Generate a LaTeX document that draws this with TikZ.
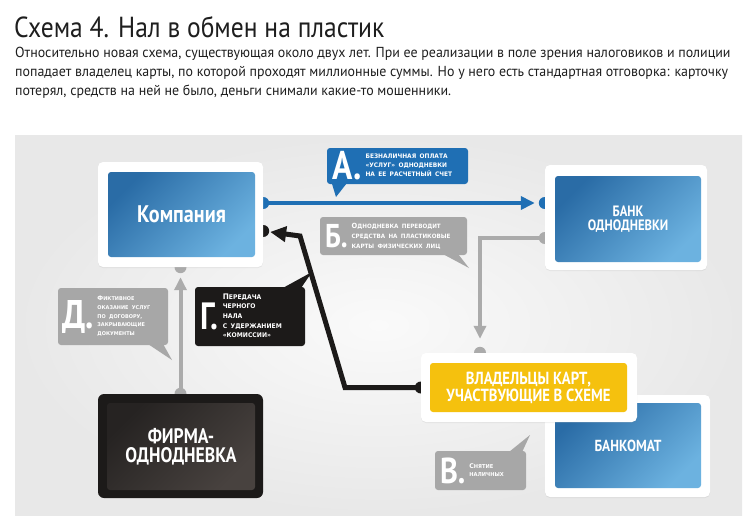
\documentclass[tikz,border=0pt]{standalone}
\usepackage{fontspec}
\setmainfont[FakeStretch=0.96]{PT Sans}
\newfontfamily\titlefont[FakeStretch=0.88]{PT Sans}
\newfontfamily\boxfont[FakeStretch=0.84]{PT Sans}
\newfontfamily\callfont[FakeStretch=0.95]{DejaVu Sans}
\usetikzlibrary{calc,backgrounds,shadows,arrows.meta,positioning}
\definecolor{schemeblue}{HTML}{1F6FB4}
\definecolor{bluedark}{HTML}{2A6CA6}
\definecolor{bluelight}{HTML}{6CB2E0}
\definecolor{callgrey}{HTML}{A7A7A7}
\definecolor{linegrey}{HTML}{ABABAB}
\definecolor{nearblack}{HTML}{1C1A19}
\definecolor{firmdark}{HTML}{262322}
\definecolor{firmlight}{HTML}{48423F}
\definecolor{cardyellow}{HTML}{F5C10E}
\definecolor{panelin}{HTML}{FAFAFA}
\definecolor{panelout}{HTML}{E8E8E8}
\definecolor{inkgrey}{HTML}{1E1E1E}

% letter + small text inside a callout
\newcommand{\callbody}[5]{\mbox{$\vcenter{\hbox{\boxfont\bfseries\fontsize{#1}{#1}\selectfont #2}}$\hspace{4pt}$\vcenter{\hbox{\callfont\bfseries\fontsize{#3}{#4}\selectfont\begin{tabular}{@{}l@{}}#5\end{tabular}}}$}}
\newcommand{\ini}[1]{\scalebox{1.2}{#1}}

\begin{document}
\begin{tikzpicture}[x=1pt,y=-1pt]

\tikzset{whitebox/.style={fill=white,rounded corners=5pt,drop shadow={shadow xshift=0pt,shadow yshift=-1pt,opacity=.12}},
bluebox/.style={rounded corners=3pt,top color=bluedark,bottom color=bluelight,shading angle=45,text=white,font=\boxfont\bfseries,align=center,inner sep=0pt},
callbox/.style={rounded corners=3pt,text=white,inner sep=0pt,align=left},
blueline/.style={draw=schemeblue,line width=4pt,-{Triangle[length=14pt,width=13pt]},shorten >=10pt},
greyline/.style={draw=linegrey,line width=4pt,-{Triangle[length=13pt,width=12pt]}},
blackline/.style={draw=nearblack,line width=5pt,-{Triangle[length=16pt,width=15pt]}}}

\useasboundingbox (0,0) rectangle (750,525);

% Heading
\node[anchor=base west,inner sep=0pt,text=inkgrey,font=\titlefont\fontsize{29}{29}\selectfont] (title) at (14,37) {Схема 4. Нал в обмен на пластик};
\node[anchor=base west,inner sep=0pt,text=inkgrey,font=\fontsize{14.5}{16}\selectfont] (bodyA) at (15,57) {Относительно новая схема, существующая около двух лет. При ее реализации в поле зрения налоговиков и полиции};
\node[anchor=base west,inner sep=0pt,text=inkgrey,font=\fontsize{14.5}{16}\selectfont] (bodyB) at (15,76) {попадает владелец карты, по которой проходят миллионные суммы. Но у него есть стандартная отговорка: карточку};
\node[anchor=base west,inner sep=0pt,text=inkgrey,font=\fontsize{14.5}{16}\selectfont] (bodyC) at (15,95) {потерял, средств на ней не было, деньги снимали какие-то мошенники.};

% Boxes
\node[whitebox,minimum width=165pt,minimum height=105pt] (kompW) at (180.5,214.5) {};
\node[bluebox,minimum width=147pt,minimum height=85pt,font=\boxfont\bfseries\fontsize{24}{26}\selectfont] (komp) at (181.5,214.5) {Компания};

\node[whitebox,minimum width=162pt,minimum height=105pt] (bankW) at (626,217.5) {};
\node[bluebox,minimum width=146pt,minimum height=86pt,font=\boxfont\bfseries\fontsize{15}{13.5}\selectfont] (bank) at (628,219) {БАНК\\ОДНОДНЕВКИ};

\node[whitebox,minimum width=165pt,minimum height=102pt] (bankomatW) at (627.5,446) {};
\node[bluebox,minimum width=146pt,minimum height=85pt,font=\boxfont\bfseries\fontsize{16}{16}\selectfont] (bankomat) at (628,445.5) {БАНКОМАТ};

\node[whitebox,minimum width=216pt,minimum height=69pt] (vladW) at (529,387.5) {};
\node[rounded corners=3pt,fill=cardyellow,text=white,align=center,inner sep=0pt,minimum width=197pt,minimum height=49pt,font=\boxfont\bfseries\fontsize{17.5}{17}\selectfont] (vlad) at (528.5,387.5) {ВЛАДЕЛЬЦЫ КАРТ,\\УЧАСТВУЮЩИЕ В СХЕМЕ};

\node[fill=nearblack,rounded corners=6pt,minimum width=165pt,minimum height=104pt] (firmaW) at (180.5,446) {};
\node[rounded corners=3pt,top color=firmdark,bottom color=firmlight,shading angle=45,text=white,align=center,inner sep=0pt,minimum width=148pt,minimum height=87pt,font=\boxfont\bfseries\fontsize{21}{19.5}\selectfont] (firma) at (181,446.5) {ФИРМА-\\ОДНОДНЕВКА};

% Callouts
\node[callbox,fill=schemeblue,minimum width=141pt,minimum height=36pt,text width=130pt] (calA) at (397.5,166) {\callbody{40}{А.}{6.2}{9}{БЕЗНАЛИЧНАЯ ОПЛАТА\\«УСЛУГ» ОДНОДНЕВКИ\\НА ЕЕ РАСЧЕТНЫЙ СЧЕТ}};
\fill[schemeblue] ($(calA.south west)+(5,-1)$) -- (336,197) -- ($(calA.south west)+(20,-1)$) -- cycle;

\node[callbox,fill=callgrey,minimum width=147pt,minimum height=38pt,text width=137pt] (calB) at (393.5,236) {\callbody{33}{Б.}{5.9}{10}{\ini{О}ДНОДНЕВКА ПЕРЕВОДИТ\\СРЕДСТВА НА ПЛАСТИКОВЫЕ\\КАРТЫ ФИЗИЧЕСКИХ ЛИЦ}};
\fill[callgrey] ($(calB.south east)+(-24,-1)$) -- (469,268) -- ($(calB.south east)+(-9,-1)$) -- cycle;

\node[callbox,fill=callgrey,minimum width=110pt,minimum height=57pt,text width=102pt] (calD) at (113,316.5) {\callbody{40}{Д.}{5.2}{8.7}{\ini{Ф}ИКТИВНОЕ\\ОКАЗАНИЕ УСЛУГ\\ПО ДОГОВОРУ,\\ЗАКРЫВАЮЩИЕ\\ДОКУМЕНТЫ}};
\fill[callgrey] ($(calD.south east)+(-20,-1)$) -- (172,360) -- ($(calD.south east)+(-5,-1)$) -- cycle;

\node[callbox,fill=nearblack,minimum width=110pt,minimum height=59pt,text width=100pt] (calG) at (250,316.5) {\callbody{38}{Г.}{6.4}{9.6}{\ini{П}ЕРЕДАЧА\\ЧЕРНОГО\\НАЛА\\С УДЕРЖАНИЕМ\\«КОМИССИИ»}};
\fill[nearblack] ($(calG.north east)+(-22,1)$) -- (312,272) -- ($(calG.north east)+(-4,1)$) -- cycle;

\node[callbox,fill=callgrey,minimum width=91pt,minimum height=39pt,text width=81pt] (calV) at (480.5,470.5) {\callbody{36}{В.}{5.4}{8}{\ini{С}НЯТИЕ\\НАЛИЧНЫХ}};
\fill[callgrey] ($(calV.north east)+(-17,1)$) -- (530,435) -- ($(calV.north east)+(-4,1)$) -- cycle;

% Connector ends
\coordinate (kompA) at (kompW.east |- 0,203);
\coordinate (bankA) at (bankW.west |- 0,203);
\coordinate (kompB) at (kompW.east |- 0,231);
\coordinate (bankB) at (bankW.west |- 0,238);
\coordinate (vladT) at (vladW.north -| 480,0);
\coordinate (vladL) at (vladW.west);
\coordinate (bendA) at (345,387.5);
\coordinate (bendB) at (300,236);

\begin{scope}[on background layer]
\fill[inner color=panelin,outer color=panelout] (15,135) rectangle (742,515);

% A: blue
\fill[schemeblue] (kompA) circle (6pt) (bankA) circle (6pt);
\draw[blueline] (kompA) -- (bankA);
% B: grey
\fill[linegrey] (bankB) circle (6pt) (vladT) circle (6pt);
\draw[greyline,shorten >=14pt] (bankB) -| (vladT);
% G: black
\fill[nearblack] (vladL) circle (6pt) (kompB) circle (6pt);
\draw[blackline,shorten >=7pt] (vladL) -- (bendA) -- (bendB) -- (kompB);
% D: grey
\fill[linegrey] (firmaW.north) circle (6pt) (kompW.south) circle (6pt);
\draw[greyline,shorten >=10pt] (firmaW.north) -- (kompW.south);
\end{scope}

\end{tikzpicture}
\end{document}
